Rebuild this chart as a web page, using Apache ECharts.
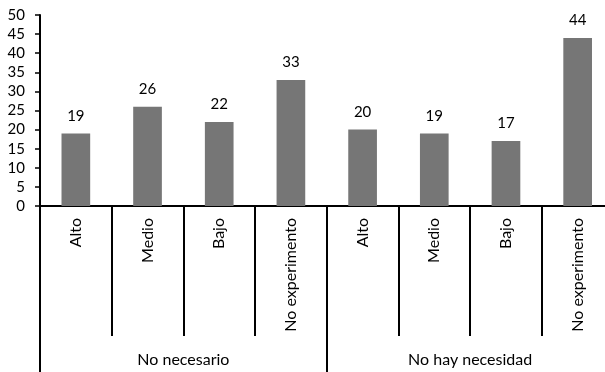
<!DOCTYPE html>
<html>
<head>
<meta charset="utf-8">
<script src="https://cdn.jsdelivr.net/npm/echarts@6/dist/echarts.min.js"></script>
<style>
  html, body { margin: 0; padding: 0; background: #fff; overflow: hidden; }
  #chart { width: 620px; height: 372px; }
</style>
</head>
<body>
<div id="chart"></div>
<script>
// Response counts by level, split into two groups
const categories = ['Alto', 'Medio', 'Bajo', 'No experimento', 'Alto', 'Medio', 'Bajo', 'No experimento'];
const groups = ['No necesario', 'No hay necesidad'];
const values = [19, 26, 22, 33, 20, 19, 17, 44];
const yTicks = { min: 0, max: 50, interval: 5 };

const FONT = 'Lato';
const INK = '#000000';

// The plot runs a little past the right edge of the visible window,
// so the last group's closing separator falls just out of view.
const chart = echarts.init(document.getElementById('chart'));
chart.setOption({
  animation: false,
  textStyle: { fontFamily: FONT, color: INK },
  grid: { left: 40, top: 15, right: 6.5, height: 191 },
  xAxis: [
    {
      type: 'category',
      data: categories,
      position: 'bottom',
      axisLine: { show: true, lineStyle: { color: INK, width: 2 } },
      axisTick: { show: true, interval: 0, length: 130, lineStyle: { color: INK, width: 2 } },
      axisLabel: { interval: 0, rotate: 90, margin: 12, fontSize: 16, color: INK, fontFamily: FONT }
    },
    {
      type: 'category',
      data: groups,
      position: 'bottom',
      axisLine: { show: false },
      axisTick: { show: true, interval: 0, length: 166, lineStyle: { color: INK, width: 2 } },
      axisLabel: { interval: 0, margin: 146, fontSize: 16, color: INK, fontFamily: FONT }
    }
  ],
  yAxis: {
    type: 'value',
    min: yTicks.min,
    max: yTicks.max,
    interval: yTicks.interval,
    splitLine: { show: false },
    axisLine: { show: true, lineStyle: { color: INK, width: 2 } },
    axisTick: { show: true, length: 5, lineStyle: { color: INK, width: 1.5 } },
    axisLabel: { margin: 15, fontSize: 15, color: INK, fontFamily: FONT }
  },
  series: [{
    type: 'bar',
    xAxisIndex: 0,
    data: values,
    barWidth: '40%',
    itemStyle: { color: '#767676' },
    label: { show: true, position: 'top', distance: 10, fontSize: 15, color: INK, fontFamily: FONT }
  }]
});
</script>
</body>
</html>
